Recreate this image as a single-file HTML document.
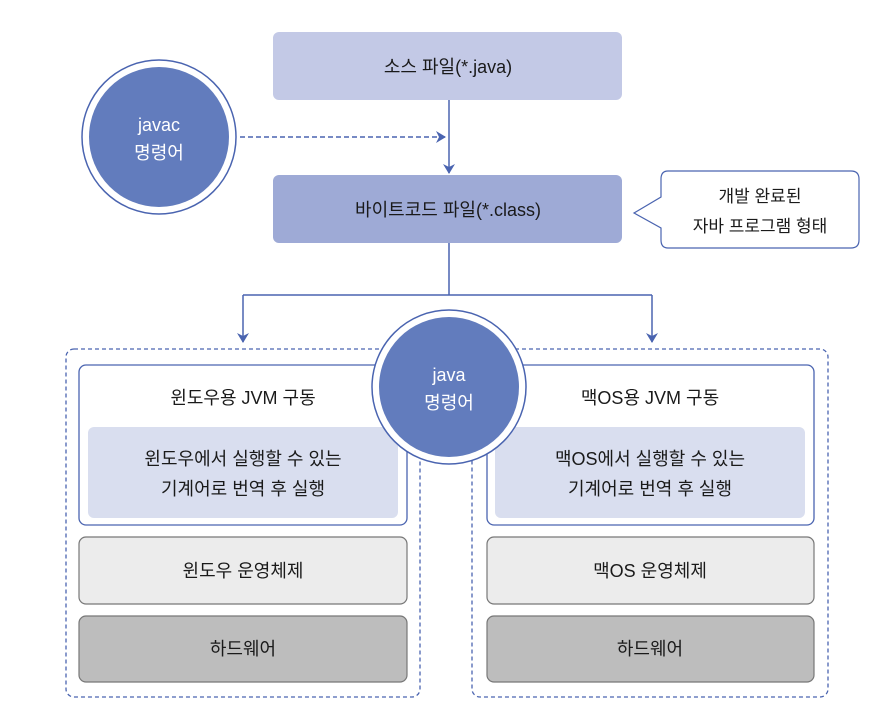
<!DOCTYPE html>
<html><head><meta charset="utf-8"><style>
body{margin:0;background:#fff}
svg text{font-family:"Liberation Sans","Noto Sans CJK KR",sans-serif;text-anchor:middle;fill:#1a1a1a}
</style></head><body>
<svg width="890" height="716" viewBox="0 0 890 716" xmlns="http://www.w3.org/2000/svg">
<defs><marker id="a" viewBox="0 0 10 12" refX="9" refY="6" markerWidth="10" markerHeight="12" markerUnits="userSpaceOnUse" orient="auto"><path d="M0,0L10,6L0,12L3,6z" fill="#4a64b0"/></marker></defs>
<rect x="273" y="32" width="349" height="68" rx="6" fill="#c3c9e6"/>
<text x="448" y="73" font-size="18">소스 파일(*.java)</text>
<rect x="273" y="175" width="349" height="68" rx="6" fill="#9eaad6"/>
<text x="448" y="216" font-size="18">바이트코드 파일(*.class)</text>
<line x1="449" y1="100" x2="449" y2="173" stroke="#4a64b0" stroke-width="1.5" marker-end="url(#a)"/>
<line x1="240" y1="137" x2="445" y2="137" stroke="#4a64b0" stroke-width="1.5" stroke-dasharray="5,3" marker-end="url(#a)"/>
<circle cx="159" cy="137" r="77" fill="#fff" stroke="#4a64b0" stroke-width="1.5"/>
<circle cx="159" cy="137" r="70" fill="#627cbd"/>
<text x="159" y="131" font-size="18" style="fill:#fff">javac</text>
<text x="159" y="159" font-size="18" style="fill:#fff">명령어</text>
<path d="M668,171H851Q859,171 859,179V240Q859,248 851,248H668Q661,248 661,240V228L634,213L661,197V179Q661,171 668,171Z" fill="#fff" stroke="#4a64b0" stroke-width="1.2"/>
<text x="760" y="202" font-size="17">개발 완료된</text>
<text x="760" y="232" font-size="17">자바 프로그램 형태</text>
<path d="M449,243V295M243,295H652" stroke="#4a64b0" stroke-width="1.5" fill="none"/>
<line x1="243" y1="295" x2="243" y2="342" stroke="#4a64b0" stroke-width="1.5" marker-end="url(#a)"/>
<line x1="652" y1="295" x2="652" y2="342" stroke="#4a64b0" stroke-width="1.5" marker-end="url(#a)"/>
<rect x="66" y="349" width="354" height="348" rx="8" fill="none" stroke="#4a64b0" stroke-width="1.3" stroke-dasharray="4,3"/>
<rect x="472" y="349" width="356" height="348" rx="8" fill="none" stroke="#4a64b0" stroke-width="1.3" stroke-dasharray="4,3"/>
<rect x="79" y="365" width="328" height="160" rx="7" fill="#fff" stroke="#4a64b0" stroke-width="1.3"/>
<rect x="88" y="427" width="310" height="91" rx="6" fill="#d9deef"/>
<text x="243" y="404" font-size="18">윈도우용 JVM 구동</text>
<text x="243" y="465" font-size="18">윈도우에서 실행할 수 있는</text>
<text x="243" y="495" font-size="18">기계어로 번역 후 실행</text>
<rect x="79" y="537" width="328" height="67" rx="7" fill="#ececec" stroke="#777" stroke-width="1.2"/>
<text x="243" y="577" font-size="18">윈도우 운영체제</text>
<rect x="79" y="616" width="328" height="66" rx="7" fill="#bdbdbd" stroke="#777" stroke-width="1.2"/>
<text x="243" y="655" font-size="18">하드웨어</text>
<rect x="487" y="365" width="327" height="160" rx="7" fill="#fff" stroke="#4a64b0" stroke-width="1.3"/>
<rect x="495" y="427" width="310" height="91" rx="6" fill="#d9deef"/>
<text x="650" y="404" font-size="18">맥OS용 JVM 구동</text>
<text x="650" y="465" font-size="18">맥OS에서 실행할 수 있는</text>
<text x="650" y="495" font-size="18">기계어로 번역 후 실행</text>
<rect x="487" y="537" width="327" height="67" rx="7" fill="#ececec" stroke="#777" stroke-width="1.2"/>
<text x="650" y="577" font-size="18">맥OS 운영체제</text>
<rect x="487" y="616" width="327" height="66" rx="7" fill="#bdbdbd" stroke="#777" stroke-width="1.2"/>
<text x="650" y="655" font-size="18">하드웨어</text>
<circle cx="449" cy="387" r="77" fill="#fff" stroke="#4a64b0" stroke-width="1.5"/>
<circle cx="449" cy="387" r="70" fill="#627cbd"/>
<text x="449" y="381" font-size="18" style="fill:#fff">java</text>
<text x="449" y="409" font-size="18" style="fill:#fff">명령어</text>
</svg>
</body></html>
